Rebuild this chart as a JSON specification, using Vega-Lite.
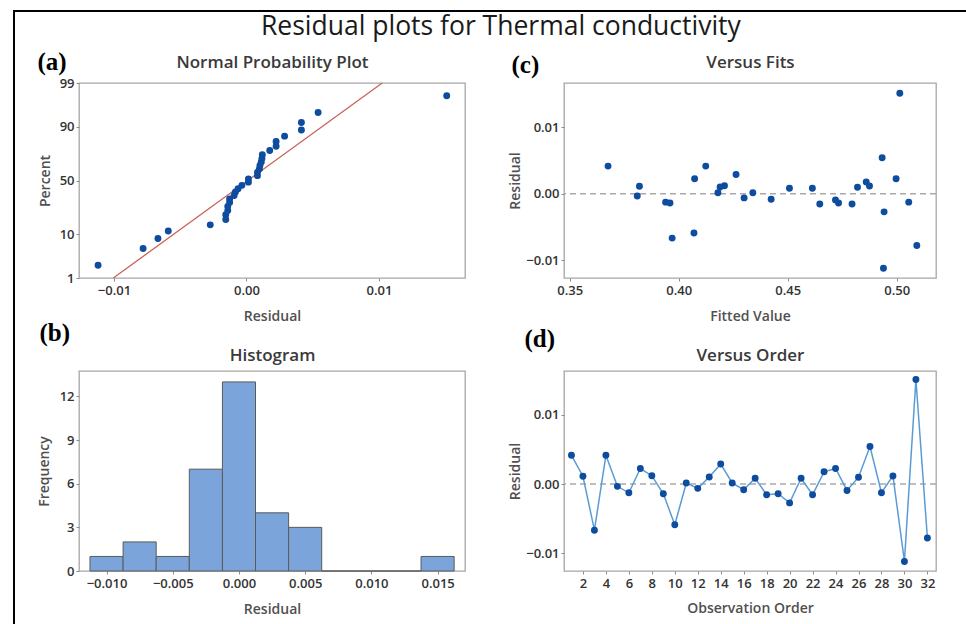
{
  "$schema": "https://vega.github.io/schema/vega-lite/v6.json",
  "padding": {"left": 13, "top": 10, "right": 0, "bottom": 0},
  "background": "white",
  "config": {
    "font": "Open Sans",
    "view": {"stroke": "#a6a6a6", "strokeWidth": 1.3},
    "axis": {
      "labelFont": "Open Sans", "labelFontSize": 13, "labelFontWeight": 600, "labelColor": "#333333",
      "titleFont": "Open Sans", "titleFontSize": 14, "titleFontWeight": 600, "titleColor": "#505050",
      "gridColor": "#e3e3e3", "domain": false, "tickColor": "#8c8c8c", "tickSize": 3
    },
    "axisX": {"labelPadding": 3},
    "axisY": {"labelPadding": 2}
  },
  "datasets": {
    "obs": [
      {"order": 1, "fit": 0.3676, "residual": 0.00415, "score": 1.205},
      {"order": 2, "fit": 0.382, "residual": 0.00112, "score": 0.44},
      {"order": 3, "fit": 0.397, "residual": -0.00668, "score": -1.383},
      {"order": 4, "fit": 0.4124, "residual": 0.00415, "score": 1.383},
      {"order": 5, "fit": 0.381, "residual": -0.00034, "score": -0.116},
      {"order": 6, "fit": 0.394, "residual": -0.00127, "score": -0.526},
      {"order": 7, "fit": 0.4073, "residual": 0.00224, "score": 0.818},
      {"order": 8, "fit": 0.421, "residual": 0.0012, "score": 0.617},
      {"order": 9, "fit": 0.396, "residual": -0.00141, "score": -0.714},
      {"order": 10, "fit": 0.407, "residual": -0.0059, "score": -1.205},
      {"order": 11, "fit": 0.418, "residual": 0.00015, "score": -0.039},
      {"order": 12, "fit": 0.43, "residual": -0.00063, "score": -0.195},
      {"order": 13, "fit": 0.419, "residual": 0.00102, "score": 0.356},
      {"order": 14, "fit": 0.4263, "residual": 0.00288, "score": 1.058},
      {"order": 15, "fit": 0.434, "residual": 0.00015, "score": 0.039},
      {"order": 16, "fit": 0.4424, "residual": -0.00083, "score": -0.275},
      {"order": 17, "fit": 0.4508, "residual": 0.00083, "score": 0.116},
      {"order": 18, "fit": 0.4647, "residual": -0.00156, "score": -0.931},
      {"order": 19, "fit": 0.4733, "residual": -0.00141, "score": -0.617},
      {"order": 20, "fit": 0.4942, "residual": -0.00273, "score": -1.058},
      {"order": 21, "fit": 0.4613, "residual": 0.00083, "score": 0.195},
      {"order": 22, "fit": 0.4795, "residual": -0.00156, "score": -0.818},
      {"order": 23, "fit": 0.486, "residual": 0.00176, "score": 0.714},
      {"order": 24, "fit": 0.4997, "residual": 0.00224, "score": 0.931},
      {"order": 25, "fit": 0.4719, "residual": -0.00093, "score": -0.356},
      {"order": 26, "fit": 0.482, "residual": 0.00098, "score": 0.275},
      {"order": 27, "fit": 0.4933, "residual": 0.00541, "score": 1.621},
      {"order": 28, "fit": 0.5055, "residual": -0.00127, "score": -0.44},
      {"order": 29, "fit": 0.4875, "residual": 0.00117, "score": 0.526},
      {"order": 30, "fit": 0.4939, "residual": -0.0112, "score": -2.022},
      {"order": 31, "fit": 0.5014, "residual": 0.01512, "score": 2.022},
      {"order": 32, "fit": 0.5092, "residual": -0.0078, "score": -1.621}
    ]
  },
  "spacing": 0,
  "vconcat": [
    {
      "width": 953, "height": 2,
      "data": {"values": []},
      "mark": "point",
      "view": {"fill": "black", "stroke": null}
    },
    {
      "spacing": 21,
      "hconcat": [
        {
          "width": 2, "height": 612,
          "data": {"values": []},
          "mark": "point",
          "view": {"fill": "black", "stroke": null}
        },
        {
          "spacing": 0,
          "vconcat": [
            {
              "width": 1, "height": 1,
              "data": {"values": []},
              "mark": "point",
              "view": {"stroke": null}
            },
            {
              "title": {"text": "Residual plots for Thermal conductivity", "font": "Open Sans", "fontSize": 26.5, "fontWeight": "normal", "color": "#1a1a1a", "anchor": "middle", "offset": 8, "dx": 14},
              "columns": 2,
              "spacing": {"row": 93, "column": 99},
              "bounds": "flush",
              "align": "each",
              "concat": [
                {
                  "width": 386, "height": 195,
                  "resolve": {"axis": {"x": "independent", "y": "independent"}},
                  "layer": [
                    {
                      "data": {"values": [{"d": 0}]},
                      "mark": {"type": "point", "opacity": 0},
                      "encoding": {
                        "x": {"field": "d", "type": "quantitative", "scale": {"domain": [-0.01264, 0.0165], "nice": false, "zero": false},
                          "axis": {"orient": "top", "title": "Normal Probability Plot", "labels": false, "ticks": false, "domain": false, "grid": false,
                            "titleFontSize": 17, "titleColor": "#3a3a3a", "titleFontWeight": 600, "titleX": 193, "titleY": -16, "titleAlign": "center", "titleBaseline": "alphabetic"}},
                        "y": {"field": "d", "type": "quantitative", "scale": {"domain": [-2.326, 2.326], "nice": false, "zero": false},
                          "axis": {"orient": "left", "title": "(a)", "labels": false, "ticks": false, "domain": false, "grid": false,
                            "titleFont": "Liberation Serif", "titleFontSize": 25, "titleFontWeight": "bold", "titleColor": "#000000", "titleAngle": 0, "titleX": -42, "titleY": -14, "titleAlign": "left", "titleBaseline": "alphabetic"}}
                      }
                    },
                    {
                      "data": {"values": [{"residual": -0.01005, "score": -2.326}, {"residual": 0.01025, "score": 2.326}]},
                      "mark": {"type": "line", "color": "#c8625a", "strokeWidth": 1.3},
                      "encoding": {
                        "x": {"field": "residual", "type": "quantitative", "axis": null},
                        "y": {"field": "score", "type": "quantitative", "axis": null}
                      }
                    },
                    {
                      "data": {"name": "obs"},
                      "mark": {"type": "circle", "size": 48, "color": "#0d4c9e", "opacity": 1},
                      "encoding": {
                        "x": {"field": "residual", "type": "quantitative",
                          "axis": {"orient": "bottom", "title": "Residual", "values": [-0.01, -0.005, 0, 0.005, 0.01],
                            "labelExpr": "abs(datum.value) > 0.001 && abs(datum.value) < 0.008 ? '' : format(datum.value, '.2f')",
                            "tickOpacity": {"condition": {"test": "abs(datum.value) > 0.001 && abs(datum.value) < 0.008", "value": 0}, "value": 1},
                            "titleX": 193, "titleY": 42, "titleBaseline": "alphabetic"}},
                        "y": {"field": "score", "type": "quantitative",
                          "axis": {"orient": "left", "title": "Percent", "values": [-2.326, -1.2816, 0, 1.2816, 2.326],
                            "labelExpr": "datum.value < -2 ? '1' : datum.value < -1 ? '10' : datum.value < 1 ? '50' : datum.value < 2 ? '90' : '99'",
                            "titleX": -30, "titleY": 97.5, "titleBaseline": "alphabetic"}}
                      }
                    }
                  ]
                },
                {
                  "width": 372, "height": 195,
                  "resolve": {"axis": {"x": "independent", "y": "independent"}},
                  "layer": [
                    {
                      "data": {"values": [{"d": 0.42, "e": 0}]},
                      "mark": {"type": "point", "opacity": 0},
                      "encoding": {
                        "x": {"field": "d", "type": "quantitative", "scale": {"domain": [0.3474, 0.518], "nice": false, "zero": false},
                          "axis": {"orient": "top", "title": "Versus Fits", "labels": false, "ticks": false, "domain": false, "grid": false,
                            "titleFontSize": 17, "titleColor": "#3a3a3a", "titleFontWeight": 600, "titleX": 186, "titleY": -16, "titleAlign": "center", "titleBaseline": "alphabetic"}},
                        "y": {"field": "e", "type": "quantitative", "scale": {"domain": [-0.01268, 0.01665], "nice": false, "zero": false},
                          "axis": {"orient": "left", "title": "(c)", "labels": false, "ticks": false, "domain": false, "grid": false,
                            "titleFont": "Liberation Serif", "titleFontSize": 25, "titleFontWeight": "bold", "titleColor": "#000000", "titleAngle": 0, "titleX": -53, "titleY": -11, "titleAlign": "left", "titleBaseline": "alphabetic"}}
                      }
                    },
                    {
                      "data": {"values": [{}]},
                      "mark": {"type": "rule", "color": "#a9a9a9", "strokeDash": [6, 4], "strokeWidth": 1.5},
                      "encoding": {"y": {"datum": 0, "axis": null}}
                    },
                    {
                      "data": {"name": "obs"},
                      "mark": {"type": "circle", "size": 48, "color": "#0d4c9e", "opacity": 1},
                      "encoding": {
                        "x": {"field": "fit", "type": "quantitative",
                          "axis": {"orient": "bottom", "title": "Fitted Value", "values": [0.35, 0.4, 0.45, 0.5], "format": ".2f",
                            "titleX": 186, "titleY": 42, "titleBaseline": "alphabetic"}},
                        "y": {"field": "residual", "type": "quantitative",
                          "axis": {"orient": "left", "title": "Residual", "values": [-0.01, 0, 0.01], "format": ".2f",
                            "gridOpacity": {"condition": {"test": "datum.value === 0", "value": 0}, "value": 1},
                            "titleX": -45, "titleY": 97.5, "titleBaseline": "alphabetic"}}
                      }
                    }
                  ]
                },
                {
                  "width": 386, "height": 200,
                  "resolve": {"axis": {"x": "independent", "y": "independent"}},
                  "layer": [
                    {
                      "data": {"values": [{"d": 0, "e": 1}]},
                      "mark": {"type": "point", "opacity": 0},
                      "encoding": {
                        "x": {"field": "d", "type": "quantitative", "scale": {"domain": [-0.01208, 0.01707], "nice": false, "zero": false},
                          "axis": {"orient": "top", "title": "Histogram", "labels": false, "ticks": false, "domain": false, "grid": false,
                            "titleFontSize": 17, "titleColor": "#3a3a3a", "titleFontWeight": 600, "titleX": 193, "titleY": -11, "titleAlign": "center", "titleBaseline": "alphabetic"}},
                        "y": {"field": "e", "type": "quantitative", "scale": {"domain": [0, 13.75], "nice": false, "zero": false},
                          "axis": {"orient": "left", "title": "(b)", "labels": false, "ticks": false, "domain": false, "grid": false,
                            "titleFont": "Liberation Serif", "titleFontSize": 25, "titleFontWeight": "bold", "titleColor": "#000000", "titleAngle": 0, "titleX": -40, "titleY": -31, "titleAlign": "left", "titleBaseline": "alphabetic"}}
                      }
                    },
                    {
                      "data": {"values": [
                        {"start": -0.01125, "end": -0.00875, "count": 1},
                        {"start": -0.00875, "end": -0.00625, "count": 2},
                        {"start": -0.00625, "end": -0.00375, "count": 1},
                        {"start": -0.00375, "end": -0.00125, "count": 7},
                        {"start": -0.00125, "end": 0.00125, "count": 13},
                        {"start": 0.00125, "end": 0.00375, "count": 4},
                        {"start": 0.00375, "end": 0.00625, "count": 3},
                        {"start": 0.00625, "end": 0.00875, "count": 0},
                        {"start": 0.00875, "end": 0.01125, "count": 0},
                        {"start": 0.01125, "end": 0.01375, "count": 0},
                        {"start": 0.01375, "end": 0.01625, "count": 1}
                      ]},
                      "mark": {"type": "rect", "fill": "#7ba5da", "stroke": "#5a5a5a", "strokeWidth": 1},
                      "encoding": {
                        "x": {"field": "start", "type": "quantitative",
                          "axis": {"orient": "bottom", "title": "Residual", "values": [-0.01, -0.005, 0, 0.005, 0.01, 0.015], "format": ".3f",
                            "titleX": 193, "titleY": 42, "titleBaseline": "alphabetic"}},
                        "x2": {"field": "end"},
                        "y": {"field": "count", "type": "quantitative",
                          "axis": {"orient": "left", "title": "Frequency", "values": [0, 3, 6, 9, 12],
                            "titleX": -31, "titleY": 100, "titleBaseline": "alphabetic"}},
                        "y2": {"datum": 0}
                      }
                    }
                  ]
                },
                {
                  "width": 372, "height": 200,
                  "resolve": {"axis": {"x": "independent", "y": "independent"}},
                  "layer": [
                    {
                      "data": {"values": [{"d": 10, "e": 0}]},
                      "mark": {"type": "point", "opacity": 0},
                      "encoding": {
                        "x": {"field": "d", "type": "quantitative", "scale": {"domain": [0.35, 32.75], "nice": false, "zero": false},
                          "axis": {"orient": "top", "title": "Versus Order", "labels": false, "ticks": false, "domain": false, "grid": false,
                            "titleFontSize": 17, "titleColor": "#3a3a3a", "titleFontWeight": 600, "titleX": 186, "titleY": -11, "titleAlign": "center", "titleBaseline": "alphabetic"}},
                        "y": {"field": "e", "type": "quantitative", "scale": {"domain": [-0.01258, 0.01634], "nice": false, "zero": false},
                          "axis": {"orient": "left", "title": "(d)", "labels": false, "ticks": false, "domain": false, "grid": false,
                            "titleFont": "Liberation Serif", "titleFontSize": 25, "titleFontWeight": "bold", "titleColor": "#000000", "titleAngle": 0, "titleX": -40, "titleY": -25, "titleAlign": "left", "titleBaseline": "alphabetic"}}
                      }
                    },
                    {
                      "data": {"values": [{}]},
                      "mark": {"type": "rule", "color": "#a9a9a9", "strokeDash": [6, 4], "strokeWidth": 1.5},
                      "encoding": {"y": {"datum": 0, "axis": null}}
                    },
                    {
                      "data": {"name": "obs"},
                      "mark": {"type": "line", "color": "#5b9bd5", "strokeWidth": 1.5},
                      "encoding": {
                        "x": {"field": "order", "type": "quantitative", "axis": null},
                        "y": {"field": "residual", "type": "quantitative", "axis": null}
                      }
                    },
                    {
                      "data": {"name": "obs"},
                      "mark": {"type": "circle", "size": 48, "color": "#0d4c9e", "opacity": 1},
                      "encoding": {
                        "x": {"field": "order", "type": "quantitative",
                          "axis": {"orient": "bottom", "title": "Observation Order", "values": [2, 4, 6, 8, 10, 12, 14, 16, 18, 20, 22, 24, 26, 28, 30, 32], "format": "d",
                            "titleX": 186, "titleY": 41, "titleBaseline": "alphabetic"}},
                        "y": {"field": "residual", "type": "quantitative",
                          "axis": {"orient": "left", "title": "Residual", "values": [-0.01, 0, 0.01], "format": ".2f",
                            "gridOpacity": {"condition": {"test": "datum.value === 0", "value": 0}, "value": 1},
                            "titleX": -45, "titleY": 100, "titleBaseline": "alphabetic"}}
                      }
                    }
                  ]
                }
              ]
            }
          ]
        }
      ]
    }
  ]
}
